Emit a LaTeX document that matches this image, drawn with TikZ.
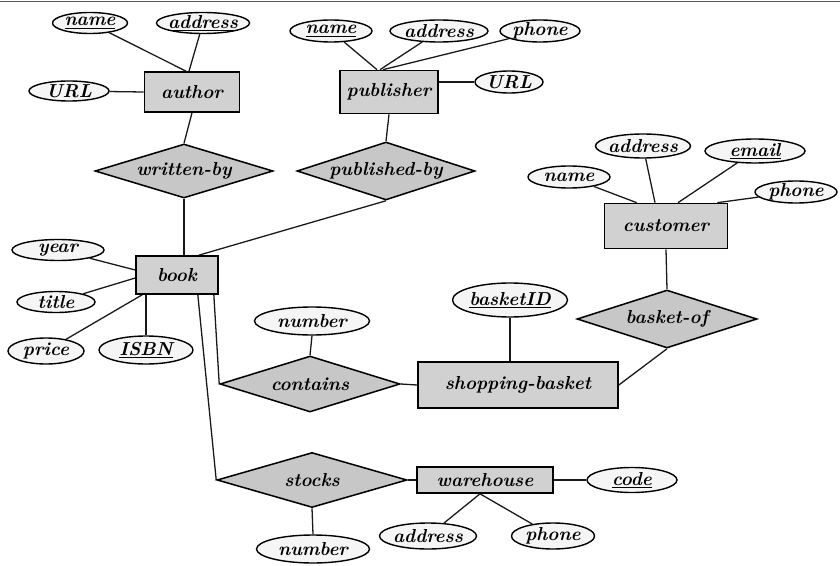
\documentclass[tikz,border=0pt]{standalone}
\usetikzlibrary{shapes.geometric,calc}
\begin{document}
\begin{tikzpicture}[x=0.03cm,y=-0.03cm,
  every node/.style={font=\fontsize{16}{18}\selectfont\bfseries\itshape, text=black},
  ent/.style={draw=black, line width=1.4pt, fill=black!18, rectangle, inner sep=0pt},
  rel/.style={draw=black, line width=1.3pt, fill=black!22, diamond, inner sep=0pt, aspect=3.2},
  attr/.style={draw=black, line width=1.2pt, fill=black!4, ellipse, inner sep=0pt},
  conn/.style={draw=black!90, line width=1.1pt}]
\useasboundingbox (0,0) rectangle (840,566);
\fill[white] (0,0) rectangle (840,566);
\draw[black!65, line width=0.8pt] (0,1.5) -- (840,1.5);

% author
\node[attr, minimum width=2.25cm, minimum height=0.63cm, label={center:\underline{name}}] (aname) at (90,23) {};
\node[attr, minimum width=2.79cm, minimum height=0.63cm, label={center:\underline{address}}] (aaddr) at (203,23) {};
\node[attr, minimum width=2.4cm, minimum height=0.6cm, label={center:URL}] (aurl) at (69,91) {};
\node[ent, minimum width=2.85cm, minimum height=1.2cm] (author) at (192,92) {author};
\node[rel, minimum width=5.34cm, minimum height=1.62cm] (writtenby) at (184,171) {written-by};

% publisher
\node[attr, minimum width=2.46cm, minimum height=0.66cm, label={center:\underline{name}}] (pname) at (331,31) {};
\node[attr, minimum width=2.94cm, minimum height=0.66cm, label={center:address}] (paddr) at (439,31) {};
\node[attr, minimum width=2.4cm, minimum height=0.66cm, label={center:phone}] (pphone) at (540,31) {};
\node[attr, minimum width=2.04cm, minimum height=0.66cm, label={center:URL}] (purl) at (509,82) {};
\node[ent, minimum width=2.94cm, minimum height=1.29cm] (publisher) at (389,92) {publisher};
\node[rel, minimum width=5.34cm, minimum height=1.74cm] (pubby) at (386,171) {published-by};

% customer
\node[attr, minimum width=2.46cm, minimum height=0.66cm, label={center:name}] (cname) at (569,177) {};
\node[attr, minimum width=2.85cm, minimum height=0.72cm, label={center:address}] (caddr) at (643,146) {};
\node[attr, minimum width=3.0cm, minimum height=0.72cm, label={center:\underline{email}}] (cemail) at (755,151) {};
\node[attr, minimum width=2.46cm, minimum height=0.66cm, label={center:phone}] (cphone) at (796,192) {};
\node[ent, minimum width=3.69cm, minimum height=1.35cm] (customer) at (666,226) {customer};
\node[rel, minimum width=5.4cm, minimum height=1.74cm] (basketof) at (667,319) {basket-of};

% book
\node[ent, minimum width=2.46cm, minimum height=1.14cm] (book) at (177,275) {book};
\node[attr, minimum width=2.76cm, minimum height=0.63cm, label={center:year}] (year) at (58,250) {};
\node[attr, minimum width=2.34cm, minimum height=0.63cm, label={center:title}] (title) at (56,302) {};
\node[attr, minimum width=2.28cm, minimum height=0.78cm, label={center:price}] (price) at (46,351) {};
\node[attr, minimum width=2.82cm, minimum height=0.84cm, label={center:\underline{ISBN}}] (isbn) at (146,350) {};

% contains / shopping-basket
\node[attr, minimum width=3.45cm, minimum height=0.84cm, label={center:number}] (number1) at (312,321) {};
\node[rel, minimum width=5.4cm, minimum height=1.68cm] (contains) at (310,384) {contains};
\node[attr, minimum width=3.45cm, minimum height=1.02cm, label={center:\underline{basketID}}] (basketid) at (510,300) {};
\node[ent, minimum width=6.0cm, minimum height=1.38cm] (sbasket) at (518,385) {shopping-basket};

% stocks / warehouse
\node[rel, minimum width=5.7cm, minimum height=1.65cm] (stocks) at (312,480) {stocks};
\node[ent, minimum width=4.08cm, minimum height=0.78cm] (warehouse) at (485,480) {warehouse};
\node[attr, minimum width=2.7cm, minimum height=0.75cm, label={center:\underline{code}}] (code) at (632,480) {};
\node[attr, minimum width=3.39cm, minimum height=0.84cm, label={center:number}] (wnumber) at (313,549) {};
\node[attr, minimum width=2.91cm, minimum height=0.78cm, label={center:address}] (waddr) at (428,536) {};
\node[attr, minimum width=2.49cm, minimum height=0.78cm, label={center:phone}] (wphone) at (553,536) {};

% connectors
\draw[conn] (aname) -- ($(author.north)+(-6,0)$);
\draw[conn] (aaddr) -- ($(author.north)+(-3,0)$);
\draw[conn] (aurl) -- (author.west);
\draw[conn] (author.south) -- (writtenby.north);
\draw[conn] (writtenby.south) -- (writtenby.south |- book.north);

\draw[conn] (pname) -- ($(publisher.north)+(-12,0)$);
\draw[conn] (paddr) -- ($(publisher.north)+(-9,0)$);
\draw[conn] (pphone) -- ($(publisher.north)+(-6,0)$);
\draw[conn] ($(publisher.east)+(0,-10)$) -- (purl.west);
\draw[conn] (publisher.south) -- (pubby.north);
\draw[conn] (pubby.south) -- ($(book.north east)+(-20,0)$);

\draw[conn] (cname) -- ($(customer.north west)+(33,0)$);
\draw[conn] (caddr) -- ($(customer.north)+(-11,0)$);
\draw[conn] (cemail) -- ($(customer.north)+(12,0)$);
\draw[conn] (cphone) -- ($(customer.north east)+(-11,0)$);
\draw[conn] (customer.south) -- (basketof.north);
\draw[conn] (basketof.south) -- (sbasket.east);

\draw[conn] (year) -- ($(book.west)+(0,-5)$);
\draw[conn] (title) -- ($(book.west)+(0,3)$);
\draw[conn] (price) -- ($(book.south west)+(7,0)$);
\draw[conn] (isbn.north) -- (isbn.north |- book.south);

\draw[conn] (number1.south) -- (contains.north);
\draw[conn] (basketid.south) -- (basketid.south |- sbasket.north);
\draw[conn] (contains.east) -- (sbasket.west);
\draw[conn] ($(book.south east)+(-5,0)$) -- (contains.west);
\draw[conn] ($(book.south east)+(-21,0)$) -- (stocks.west);

\draw[conn] (stocks.east) -- (warehouse.west);
\draw[conn] (warehouse.east) -- (code.west);
\draw[conn] ($(warehouse.south)+(-5,0)$) -- (waddr);
\draw[conn] ($(warehouse.south)+(-5,0)$) -- (wphone);
\draw[conn] (stocks.south) -- (wnumber.north);
\end{tikzpicture}
\end{document}
